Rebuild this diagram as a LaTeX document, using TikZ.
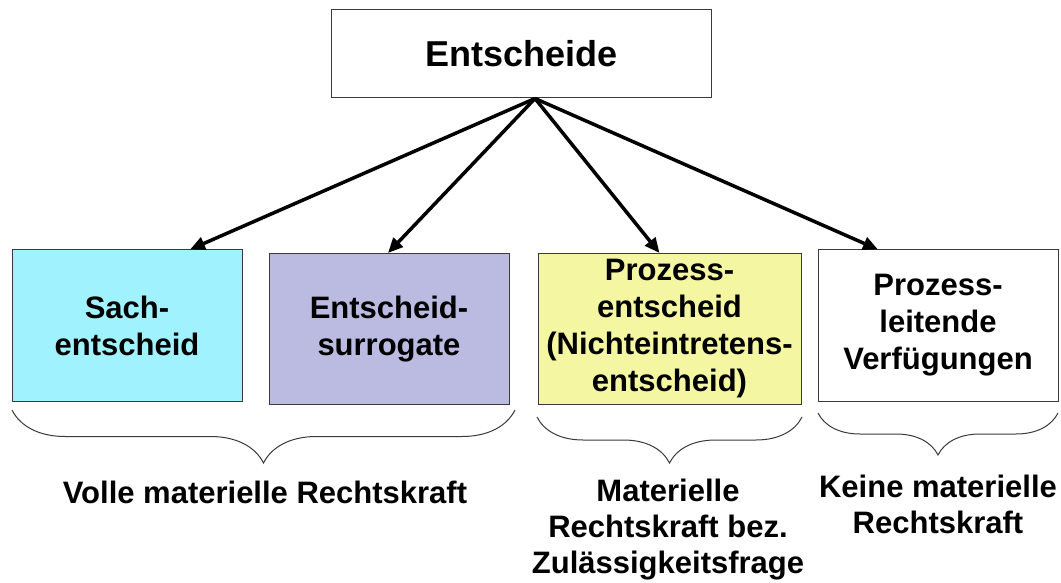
\documentclass[tikz,border=0pt]{standalone}
\usepackage{fontspec}
\setmainfont{Liberation Sans}
\usetikzlibrary{arrows.meta,positioning,decorations.pathreplacing}
\definecolor{sachcyan}{HTML}{A0F2FF}
\definecolor{surrogatlila}{HTML}{BBBBE2}
\definecolor{prozessgelb}{HTML}{F5F6A2}
\definecolor{randgrau}{HTML}{3A3A3A}
\tikzset{
  kopf/.style={draw=randgrau,line width=1pt,fill=white,minimum width=380pt,minimum height=88pt,font=\fontsize{36}{43}\selectfont\bfseries},
  kasten/.style={draw=randgrau,line width=1pt,align=center,minimum height=151pt,inner sep=4pt,font=\fontsize{31}{37}\selectfont\bfseries},
  fazit/.style={align=center,inner sep=0pt,anchor=north,font=\fontsize{31}{36}\selectfont\bfseries},
  pfeil/.style={-{Triangle[length=15pt,width=13pt]},line width=3.5pt},
  klammer/.style={decorate,decoration={brace,mirror,amplitude=#1},line width=1pt,draw=randgrau},
}

\begin{document}
\begin{tikzpicture}[x=1pt,y=1pt]
    \useasboundingbox (0,0) rectangle (1061,582);
    \node[kopf] (entscheide) at (521.5,528) {Entscheide};
    \node[kasten,fill=sachcyan,minimum width=230pt] (sach) at (127,256.5) {Sach-\\entscheid};
    \node[kasten,fill=surrogatlila,minimum width=240pt,right=26pt of sach,yshift=-3.5pt] (surrogate) {Entscheid-\\surrogate};
    \node[kasten,fill=prozessgelb,minimum width=263pt,right=28pt of surrogate] (prozess) {Prozess-\\entscheid\\(Nichteintretens-\\entscheid)};
    \node[kasten,fill=white,minimum width=240pt,right=16pt of prozess,yshift=3.5pt] (leitend) {Prozess-\\leitende\\Verfügungen};
    % pfeile vom oberbegriff
    \coordinate (hub) at ([xshift=13.5pt]entscheide.south);
    \draw[pfeil] (hub)--([xshift=63pt]sach.north);
    \draw[pfeil] (hub)--([xshift=-1pt]surrogate.north);
    \draw[pfeil] (hub)--([xshift=-10pt]prozess.north);
    \draw[pfeil] (hub)--([xshift=-60pt]leitend.north);
    % klammern und rechtskraft
    \coordinate (vollA) at (12,172);\coordinate (vollB) at (515,172);
    \coordinate (zulA) at (537,165);\coordinate (zulB) at (802,165);
    \coordinate (keinA) at (818,169);\coordinate (keinB) at (1058,169);
    \draw[klammer=53pt] (vollA)--(vollB);
    \draw[klammer=46pt] (zulA)--(zulB);
    \draw[klammer=42pt] (keinA)--(keinB);
    \node[fazit] (voll) at (265,101) {Volle materielle Rechtskraft};
    \node[fazit] (zul) at (668,103) {Materielle\\Rechtskraft bez.\\Zulässigkeitsfrage};
    \node[fazit] (kein) at (938,107) {Keine materielle\\Rechtskraft};
  \end{tikzpicture}
\end{document}
